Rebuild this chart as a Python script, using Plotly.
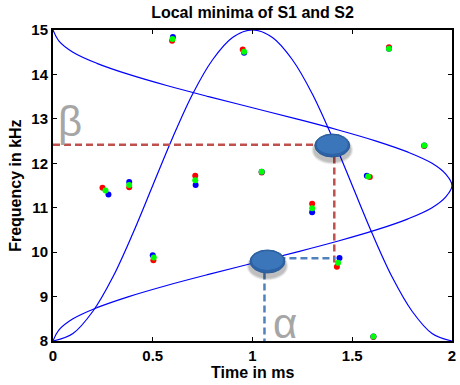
import plotly.graph_objects as go

# S1: frequency sweep as a function of time (bell-shaped track)
s1_time = [0.0, 0.1, 0.2, 0.3, 0.4, 0.5, 0.6, 0.7, 0.8, 0.9, 1.0,
           1.1, 1.2, 1.3, 1.4, 1.5, 1.6, 1.7, 1.8, 1.9, 2.0]
s1_freq = [8.00, 8.17, 8.67, 9.44, 10.42, 11.50, 12.58, 13.56, 14.33, 14.83, 15.00,
           14.83, 14.33, 13.56, 12.58, 11.50, 10.42, 9.44, 8.67, 8.17, 8.00]

# S2: time as a function of frequency (sideways track)
s2_freq = [15.0, 14.75, 14.5, 14.25, 14.0, 13.75, 13.5, 13.25, 13.0, 12.75, 12.5,
           12.25, 12.0, 11.75, 11.5, 11.25, 11.0, 10.75, 10.5, 10.25, 10.0,
           9.75, 9.5, 9.25, 9.0, 8.75, 8.5, 8.25, 8.0]
s2_time = [0.00, 0.03, 0.10, 0.22, 0.38, 0.57, 0.78, 1.00, 1.22, 1.43, 1.62,
           1.78, 1.90, 1.97, 2.00, 1.97, 1.90, 1.78, 1.62, 1.43, 1.22,
           1.00, 0.78, 0.57, 0.38, 0.22, 0.10, 0.03, 0.00]

# Local minima found by the three estimators
red_time = [0.248, 0.382, 0.503, 0.597, 0.713, 0.951, 1.046, 1.299, 1.423, 1.588, 1.684, 1.861, 1.606]
red_freq = [11.45, 11.46, 9.82, 14.76, 11.72, 14.56, 11.79, 11.09, 9.67, 11.69, 14.61, 12.39, 8.09]
green_time = [0.263, 0.382, 0.505, 0.599, 0.713, 0.958, 1.046, 1.299, 1.429, 1.580, 1.684, 1.861, 1.606]
green_freq = [11.39, 11.51, 9.88, 14.80, 11.62, 14.51, 11.81, 10.99, 9.76, 11.70, 14.58, 12.40, 8.10]
blue_time = [0.278, 0.382, 0.500, 0.601, 0.715, 0.958, 1.046, 1.299, 1.436, 1.573, 1.684, 1.861, 1.606]
blue_freq = [11.30, 11.58, 9.93, 14.84, 11.51, 14.49, 11.81, 10.90, 9.87, 11.72, 14.58, 12.40, 8.10]

# Highlighted crossing points and their guide levels
cross_upper = (1.40, 12.40)
cross_lower = (1.075, 9.79)
beta_freq = 12.42
beta_drop_time = 1.41
beta_drop_end = 9.75
alpha_time = 1.06
alpha_level = 9.86
alpha_reach_time = 1.415

x_ticks = [0, 0.5, 1, 1.5, 2]
x_ticktext = ["0", "0.5", "1", "1.5", "2"]
y_ticks = [8, 9, 10, 11, 12, 13, 14, 15]

FONT = "Arial, Liberation Sans, sans-serif"

fig = go.Figure()
fig.add_trace(go.Scatter(x=s1_time, y=s1_freq, mode="lines", line=dict(color="#0000ff", width=1.2, shape="spline"), hoverinfo="skip"))
fig.add_trace(go.Scatter(x=s2_time, y=s2_freq, mode="lines", line=dict(color="#0000ff", width=1.2, shape="spline"), hoverinfo="skip"))
for xs, ys, c in [(red_time, red_freq, "#ff0000"), (blue_time, blue_freq, "#0000ff"), (green_time, green_freq, "#00ff00")]:
    fig.add_trace(go.Scatter(x=xs, y=ys, mode="markers", marker=dict(color=c, size=6, line=dict(width=0)), cliponaxis=False))

RED = "#c0504d"
BLUE = "#4f81bd"
dash = "7px,4px"
shapes = [
    dict(type="line", xref="x", yref="y", x0=0, x1=cross_upper[0], y0=beta_freq, y1=beta_freq, line=dict(color=RED, width=2.5, dash=dash)),
    dict(type="line", xref="x", yref="y", x0=beta_drop_time, x1=beta_drop_time, y0=cross_upper[1], y1=beta_drop_end, line=dict(color=RED, width=2.5, dash=dash)),
    dict(type="line", xref="x", yref="y", x0=cross_lower[0], x1=alpha_reach_time, y0=alpha_level, y1=alpha_level, line=dict(color=BLUE, width=2.5, dash=dash)),
    dict(type="line", xref="x", yref="y", x0=alpha_time, x1=alpha_time, y0=cross_lower[1], y1=8, line=dict(color=BLUE, width=2.5, dash=dash)),
]
for cx, cy in [cross_upper, cross_lower]:
    # soft drop shadow
    for k, op in enumerate([0.06, 0.09, 0.12]):
        g = 3 - k
        shapes.append(dict(type="circle", xref="x", yref="y", xsizemode="pixel", ysizemode="pixel",
                           xanchor=cx, yanchor=cy, x0=-18 - g, x1=18 + g, y0=-16 - g, y1=7 + g,
                           fillcolor=f"rgba(0,0,0,{op})", line=dict(width=0)))
    shapes.append(dict(type="circle", xref="x", yref="y", xsizemode="pixel", ysizemode="pixel",
                       xanchor=cx, yanchor=cy, x0=-17.5, x1=17.5, y0=-11.5, y1=11.5,
                       fillcolor="#2d62a4", line=dict(color="#2a5c9a", width=1)))
    shapes.append(dict(type="circle", xref="x", yref="y", xsizemode="pixel", ysizemode="pixel",
                       xanchor=cx, yanchor=cy, x0=-15.5, x1=15.5, y0=-8.5, y1=10.5,
                       fillcolor="#3b76bb", line=dict(width=0)))

annotations = [
    dict(text="β", x=0.083, y=12.93, xref="x", yref="y", showarrow=False,
         font=dict(family=FONT, size=42, color="#a6a6a6"), xanchor="center", yanchor="middle"),
    dict(text="α", x=1.165, y=8.39, xref="x", yref="y", showarrow=False,
         font=dict(family=FONT, size=42, color="#a6a6a6"), xanchor="center", yanchor="middle"),
    dict(text="Time in ms", x=0.5, y=-0.0997, xref="paper", yref="paper", showarrow=False,
         font=dict(family=FONT, size=16, color="#000000", weight="bold"), xanchor="center", yanchor="middle"),
    dict(text="Frequency in kHz", x=-0.0943, y=0.5, xref="paper", yref="paper", showarrow=False, textangle=-90,
         font=dict(family=FONT, size=16, color="#000000", weight="bold"), xanchor="center", yanchor="middle"),
]

axis_common = dict(showline=True, linewidth=2, linecolor="#000000", mirror="ticks", ticks="inside",
                   ticklen=4, tickwidth=1, tickcolor="#000000", showgrid=False, zeroline=False,
                   tickfont=dict(family=FONT, size=15, color="#000000", weight="bold"))

fig.update_layout(
    width=460, height=385,
    margin=dict(l=53, r=4, t=30, b=44),
    paper_bgcolor="#ffffff", plot_bgcolor="#ffffff",
    showlegend=False,
    title=dict(text="Local minima of S1 and S2", x=0.5, xref="paper", y=1 - 12 / 385, yref="container",
               xanchor="center", yanchor="middle",
               font=dict(family=FONT, size=16, color="#000000", weight="bold")),
    xaxis=dict(range=[0, 2], tickvals=x_ticks, ticktext=x_ticktext, **axis_common),
    yaxis=dict(range=[8, 15], tickvals=y_ticks, **axis_common),
    shapes=shapes,
    annotations=annotations,
)

fig.write_html("out.html")
